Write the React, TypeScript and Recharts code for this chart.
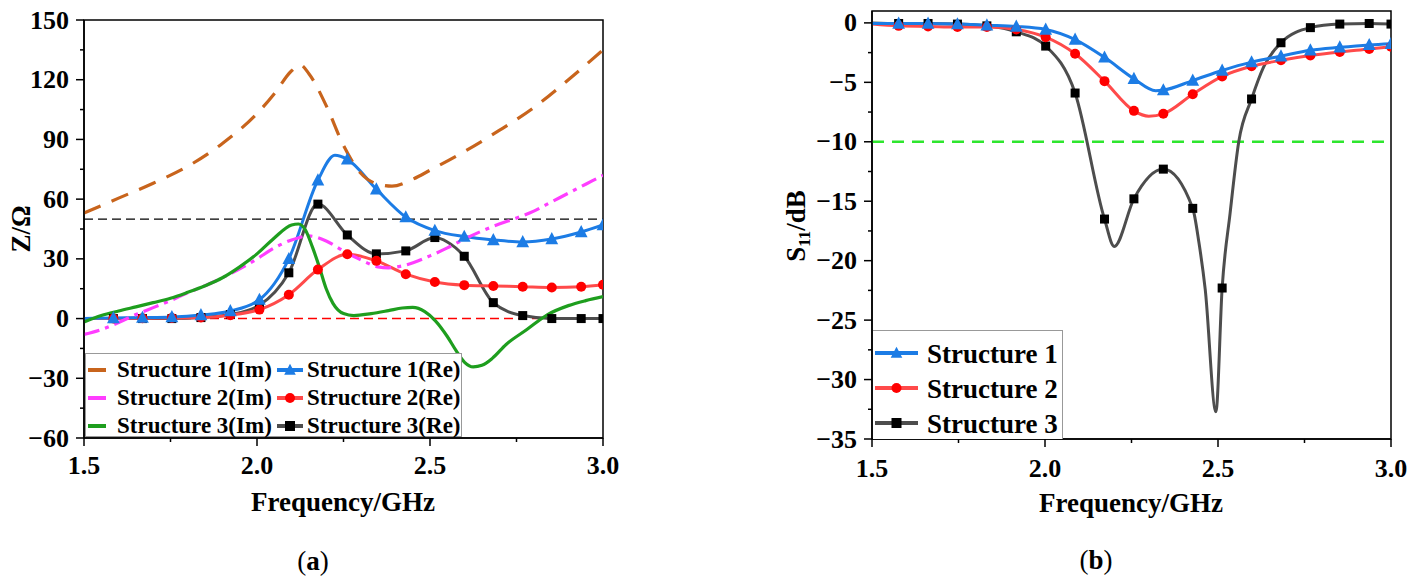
import React from 'react';
import { LineChart, Line, XAxis, YAxis, ReferenceLine, ReferenceArea } from 'recharts';

const FONT = '"Liberation Serif", "Times New Roman", serif';

// ---------- Panel (a): impedance ----------
const aTicksX = [1.5, 1.75, 2.0, 2.25, 2.5, 2.75, 3.0];
const aMajorX = [1.5, 2.0, 2.5, 3.0];
const aTicksY = [-60, -45, -30, -15, 0, 15, 30, 45, 60, 75, 90, 105, 120, 135, 150];
const aMajorY = [-60, -30, 0, 30, 60, 90, 120, 150];

const aMarkF = [1.585, 1.669, 1.754, 1.838, 1.923, 2.007, 2.092, 2.176, 2.261, 2.345, 2.43, 2.514, 2.599, 2.683, 2.768, 2.852, 2.937, 3.0];
const s1ReMarks = [0.3, 0.5, 0.8, 1.8, 3.8, 9.5, 30, 69.5, 80, 65, 51, 44.2, 41.2, 39.5, 38.5, 40, 43.5, 47];
const s1ReExtra: [number, number][] = [[1.5, 0], [2.225, 82]];
const s2ReMarks = [0, 0.2, 0.3, 0.5, 1.7, 4.5, 12, 24.6, 32.3, 29, 22.3, 18.4, 16.8, 16.4, 16, 15.6, 16, 17];
const s2ReExtra: [number, number][] = [[1.5, 0]];
const s3ReMarks = [0, 0, 0, 0.5, 2, 6.7, 23, 57.5, 42, 32.5, 34, 40.7, 31.3, 8, 1.5, 0, 0, 0];
const s3ReExtra: [number, number][] = [[1.5, 0], [2.55, 38.5]];

const s1Im: [number, number][] = [
  [1.5, 53], [1.6, 60.5], [1.7, 68], [1.8, 76.5], [1.9, 88], [2.0, 103], [2.05, 113], [2.1, 124.5],
  [2.125, 127.5], [2.15, 123], [2.2, 107], [2.25, 87], [2.3, 73], [2.35, 67.5], [2.39, 66.5], [2.45, 70],
  [2.5, 74.5], [2.6, 84], [2.7, 94.5], [2.8, 106], [2.9, 120], [3.0, 135],
];
const s2Im: [number, number][] = [
  [1.5, -8], [1.55, -5.5], [1.6, -2], [1.65, 2], [1.7, 5.5], [1.75, 9], [1.8, 13], [1.85, 16.5], [1.9, 20.5],
  [1.95, 25], [2.0, 30], [2.05, 35.5], [2.1, 39.5], [2.15, 41.5], [2.2, 39], [2.25, 34], [2.3, 29.5],
  [2.35, 26], [2.38, 25.5], [2.42, 26.5], [2.5, 31.5], [2.55, 35.5], [2.6, 40], [2.65, 44], [2.7, 47.5],
  [2.75, 50.5], [2.8, 54], [2.85, 58.5], [2.9, 63], [2.95, 67.5], [3.0, 72],
];
const s3Im: [number, number][] = [
  [1.5, -1.7], [1.55, 1.5], [1.6, 3.8], [1.65, 5.9], [1.7, 8], [1.75, 10.2], [1.8, 13.2], [1.85, 16.5],
  [1.9, 20.5], [1.95, 26], [2.0, 32.5], [2.05, 40.5], [2.1, 47], [2.12, 47.5], [2.14, 44.5], [2.16, 36],
  [2.18, 26], [2.2, 15], [2.22, 7.5], [2.25, 2.5], [2.28, 1.5], [2.33, 2.5], [2.38, 4], [2.42, 5.3],
  [2.45, 5.6], [2.485, 3.5], [2.515, -1], [2.55, -9], [2.575, -16], [2.6, -22], [2.625, -24.3],
  [2.65, -23.5], [2.68, -20], [2.72, -13], [2.78, -5.5], [2.84, 2], [2.9, 6.5], [2.95, 9], [3.0, 11],
];

// ---------- Panel (b): S11 ----------
const bTicksX = [1.5, 1.75, 2.0, 2.25, 2.5, 2.75, 3.0];
const bMajorX = [1.5, 2.0, 2.5, 3.0];
const bTicksY = [-35, -32.5, -30, -27.5, -25, -22.5, -20, -17.5, -15, -12.5, -10, -7.5, -5, -2.5, 0];
const bMajorY = [-35, -30, -25, -20, -15, -10, -5, 0];

const bMarkF = [1.577, 1.662, 1.747, 1.832, 1.917, 2.002, 2.087, 2.172, 2.257, 2.342, 2.427, 2.512, 2.597, 2.682, 2.767, 2.852, 2.937, 3.0];
const b1Marks = [-0.05, -0.05, -0.1, -0.2, -0.3, -0.55, -1.4, -2.9, -4.7, -5.65, -4.85, -4.0, -3.3, -2.8, -2.3, -2.05, -1.85, -1.75];
const b1Extra: [number, number][] = [[1.5, -0.05], [2.32, -5.7]];
const b2Marks = [-0.25, -0.3, -0.35, -0.35, -0.55, -1.2, -2.6, -4.9, -7.4, -7.65, -6.0, -4.5, -3.65, -3.15, -2.75, -2.45, -2.2, -2.0];
const b2Extra: [number, number][] = [[1.5, -0.1], [2.3, -7.85]];
const b3Marks = [-0.05, -0.05, -0.1, -0.25, -0.75, -1.95, -5.9, -16.5, -14.8, -12.3, -15.6, -22.3, -6.4, -1.67, -0.4, -0.1, -0.05, -0.1];
const b3Extra: [number, number][] = [[1.5, 0], [2.2, -18.8], [2.445, -18.5], [2.463, -22.4], [2.494, -32.7], [2.535, -16], [2.56, -10], [2.632, -3.7]];

type Pt = { f: number; v: number; m: boolean };
function build(markF: number[], markV: number[], extra: [number, number][]): Pt[] {
  const pts: Pt[] = markF.map((f, i) => ({ f, v: markV[i], m: true }));
  extra.forEach(([f, v]) => pts.push({ f, v, m: false }));
  return pts.sort((a, b) => a.f - b.f);
}
function curve(p: [number, number][]): Pt[] {
  return p.map(([f, v]) => ({ f, v, m: false }));
}

const C = {
  orange: '#C8641C',
  magenta: '#FF3DFF',
  green: '#1E9E1E',
  blue: '#1C7CE5',
  redLine: '#FF4A4A',
  red: '#FF0000',
  grayLine: '#4D4D4D',
  black: '#000000',
};

function Marker({ shape, cx, cy, color, s }: { shape: string; cx: number; cy: number; color: string; s: number }) {
  if (shape === 'tri') {
    const h = s * 1.05;
    return (
      <polygon
        points={`${cx},${cy - h * 0.6} ${cx - s * 0.58},${cy + h * 0.45} ${cx + s * 0.58},${cy + h * 0.45}`}
        fill={color}
      />
    );
  }
  if (shape === 'circ') return <circle cx={cx} cy={cy} r={s / 2} fill={color} />;
  return <rect x={cx - s / 2} y={cy - s / 2} width={s} height={s} fill={color} />;
}

const makeDot = (shape: string, color: string, s: number) => (props: any) => {
  const { cx, cy, payload, index } = props;
  if (!payload || !payload.m || cx == null || cy == null) return <g key={`n${index}`} />;
  return (
    <g key={`d${index}`}>
      <Marker shape={shape} cx={cx} cy={cy} color={color} s={s} />
    </g>
  );
};

const fmt = (v: number) => String(v).replace('-', '\u2212');

const makeYTick = (axisX: number, major: number[]) => (props: any) => {
  const { y, payload } = props;
  const v = payload.value;
  const isMajor = major.includes(v);
  return (
    <g>
      <line x1={axisX} x2={axisX - (isMajor ? 8 : 4)} y1={y} y2={y} stroke="#000" strokeWidth={1.5} />
      {isMajor && (
        <text x={axisX - 15} y={y} textAnchor="end" dominantBaseline="central" fontFamily={FONT} fontWeight="bold" fontSize={26} fill="#000">
          {fmt(v)}
        </text>
      )}
    </g>
  );
};

const makeXTick = (axisY: number, major: number[], dy: number) => (props: any) => {
  const { x, payload } = props;
  const v = payload.value;
  const isMajor = major.includes(v);
  return (
    <g>
      <line x1={x} x2={x} y1={axisY} y2={axisY + (isMajor ? 8 : 4)} stroke="#000" strokeWidth={1.5} />
      {isMajor && (
        <text x={x} y={axisY + dy} textAnchor="middle" dominantBaseline="central" fontFamily={FONT} fontWeight="bold" fontSize={26} fill="#000">
          {v.toFixed(1)}
        </text>
      )}
    </g>
  );
};

const txt: React.CSSProperties = {
  position: 'absolute',
  fontFamily: FONT,
  color: '#000',
  whiteSpace: 'nowrap',
  lineHeight: 1,
  transform: 'translate(-50%, -50%)',
};

function LegendIcon({ color, dash, shape, w, mx }: { color: string; dash?: string; shape?: string; w: number; mx?: number }) {
  return (
    <svg width={w} height={14} style={{ display: 'block' }}>
      <line x1={0} x2={w} y1={7} y2={7} stroke={color} strokeWidth={4} strokeDasharray={dash} />
      {shape && <Marker shape={shape} cx={mx ?? w / 2} cy={7} color={shape === 'circ' ? C.red : shape === 'sq' ? C.black : color} s={10} />}
    </svg>
  );
}

export default function App() {
  const A = { w: 625, h: 500, mt: 20, mr: 22, mb: 22, yw: 84, xh: 40 };
  const aAxisY = A.h - A.mb - A.xh; // 438
  const B = { w: 640, h: 500, mt: 11, mr: 29, mb: 21, yw: 92, xh: 40 };
  const bAxisY = B.h - B.mb - B.xh; // 439

  const s1Re = build(aMarkF, s1ReMarks, s1ReExtra);
  const s2Re = build(aMarkF, s2ReMarks, s2ReExtra);
  const s3Re = build(aMarkF, s3ReMarks, s3ReExtra);
  const b1 = build(bMarkF, b1Marks, b1Extra);
  const b2 = build(bMarkF, b2Marks, b2Extra);
  const b3 = build(bMarkF, b3Marks, b3Extra);

  const legA = [
    { label: 'Structure 1(Im)', color: C.orange, label2: 'Structure 1(Re)', color2: C.blue, shape: 'tri' },
    { label: 'Structure 2(Im)', color: C.magenta, label2: 'Structure 2(Re)', color2: C.redLine, shape: 'circ' },
    { label: 'Structure 3(Im)', color: C.green, label2: 'Structure 3(Re)', color2: C.grayLine, shape: 'sq' },
  ];
  const legB = [
    { label: 'Structure 1', color: C.blue, shape: 'tri' },
    { label: 'Structure 2', color: C.redLine, shape: 'circ' },
    { label: 'Structure 3', color: C.grayLine, shape: 'sq' },
  ];

  const nw: React.CSSProperties = { whiteSpace: 'nowrap' };

  return (
    <div style={{ position: 'absolute', left: 0, top: 0, width: 1421, height: 583, background: '#fff', overflow: 'hidden' }}>
      {/* Panel (a) */}
      <div style={{ position: 'absolute', left: 0, top: 0 }}>
        <LineChart width={A.w} height={A.h} margin={{ top: A.mt, right: A.mr, bottom: A.mb, left: 0 }}>
          <XAxis
            type="number"
            dataKey="f"
            domain={[1.5, 3.0]}
            ticks={aTicksX}
            interval={0}
            allowDataOverflow
            height={A.xh}
            axisLine={{ stroke: '#000', strokeWidth: 1.5 }}
            tickLine={false}
            tick={makeXTick(aAxisY, aMajorX, 27)}
          />
          <YAxis
            type="number"
            dataKey="v"
            domain={[-60, 150]}
            ticks={aTicksY}
            interval={0}
            allowDataOverflow
            width={A.yw}
            axisLine={{ stroke: '#000', strokeWidth: 1.5 }}
            tickLine={false}
            tick={makeYTick(A.yw, aMajorY)}
          />
          <ReferenceArea x1={1.5} x2={3.0} y1={-60} y2={150} fill="none" stroke="#000" strokeWidth={1.5} ifOverflow="visible" />
          <ReferenceLine y={50} stroke="#000" strokeWidth={1.2} strokeDasharray="9 5" />
          <ReferenceLine y={0} stroke="#FF0000" strokeWidth={1.5} strokeDasharray="9 5" />
          <Line data={s3Re} dataKey="v" type="monotone" stroke={C.grayLine} strokeWidth={3} dot={makeDot('sq', C.black, 9)} activeDot={false} isAnimationActive={false} />
          <Line data={s2Re} dataKey="v" type="monotone" stroke={C.redLine} strokeWidth={3} dot={makeDot('circ', C.red, 10)} activeDot={false} isAnimationActive={false} />
          <Line data={s1Re} dataKey="v" type="monotone" stroke={C.blue} strokeWidth={3} dot={makeDot('tri', C.blue, 11)} activeDot={false} isAnimationActive={false} />
          <Line data={curve(s1Im)} dataKey="v" type="monotone" stroke={C.orange} strokeWidth={3.2} strokeDasharray="18 12" dot={false} activeDot={false} isAnimationActive={false} />
          <Line data={curve(s2Im)} dataKey="v" type="monotone" stroke={C.magenta} strokeWidth={3.2} strokeDasharray="16 6 4 6" dot={false} activeDot={false} isAnimationActive={false} />
          <Line data={curve(s3Im)} dataKey="v" type="monotone" stroke={C.green} strokeWidth={3.2} dot={false} activeDot={false} isAnimationActive={false} />
        </LineChart>
      </div>

      {/* Legend (a) */}
      <div
        style={{
          position: 'absolute', left: 85, top: 353, width: 377, height: 84, background: '#fff',
          border: '1px solid #999', boxSizing: 'border-box', fontFamily: FONT, fontWeight: 'bold', fontSize: 23,
        }}
      >
        {legA.map((r, i) => (
          <div key={i} style={{ position: 'absolute', top: 2 + i * 28, left: 0, height: 28, width: '100%' }}>
            <div style={{ position: 'absolute', left: 2, top: 7 }}>
              <LegendIcon color={r.color} w={18} />
            </div>
            <div style={{ ...nw, position: 'absolute', left: 31, top: 2, lineHeight: '24px' }}>{r.label}</div>
            <div style={{ position: 'absolute', left: 191, top: 7 }}>
              <LegendIcon color={r.color2} shape={r.shape} w={26} />
            </div>
            <div style={{ ...nw, position: 'absolute', left: 221, top: 2, lineHeight: '24px' }}>{r.label2}</div>
          </div>
        ))}
      </div>

      <div style={{ ...txt, left: 21, top: 229, fontSize: 27, fontWeight: 'bold', transform: 'translate(-50%, -50%) rotate(-90deg)' }}>Z/Ω</div>
      <div style={{ ...txt, left: 343, top: 502, fontSize: 27, fontWeight: 'bold' }}>Frequency/GHz</div>
      <div style={{ ...txt, left: 313, top: 561, fontSize: 27 }}>
        (<b>a</b>)
      </div>

      {/* Panel (b) */}
      <div style={{ position: 'absolute', left: 780, top: 0 }}>
        <LineChart width={B.w} height={B.h} margin={{ top: B.mt, right: B.mr, bottom: B.mb, left: 0 }}>
          <XAxis
            type="number"
            dataKey="f"
            domain={[1.5, 3.0]}
            ticks={bTicksX}
            interval={0}
            allowDataOverflow
            height={B.xh}
            axisLine={{ stroke: '#000', strokeWidth: 1.5 }}
            tickLine={false}
            tick={makeXTick(bAxisY, bMajorX, 29)}
          />
          <YAxis
            type="number"
            dataKey="v"
            domain={[-35, 1]}
            ticks={bTicksY}
            interval={0}
            allowDataOverflow
            width={B.yw}
            axisLine={{ stroke: '#000', strokeWidth: 1.5 }}
            tickLine={false}
            tick={makeYTick(B.yw, bMajorY)}
          />
          <ReferenceArea x1={1.5} x2={3.0} y1={-35} y2={1} fill="none" stroke="#000" strokeWidth={1.5} ifOverflow="visible" />
          <ReferenceLine y={-10} stroke="#2EE62E" strokeWidth={2.5} strokeDasharray="12 8" />
          <Line data={b3} dataKey="v" type="monotone" stroke={C.grayLine} strokeWidth={3} dot={makeDot('sq', C.black, 9)} activeDot={false} isAnimationActive={false} />
          <Line data={b2} dataKey="v" type="monotone" stroke={C.redLine} strokeWidth={3} dot={makeDot('circ', C.red, 10)} activeDot={false} isAnimationActive={false} />
          <Line data={b1} dataKey="v" type="monotone" stroke={C.blue} strokeWidth={3} dot={makeDot('tri', C.blue, 11)} activeDot={false} isAnimationActive={false} />
        </LineChart>
      </div>

      {/* Legend (b) */}
      <div
        style={{
          position: 'absolute', left: 873, top: 330, width: 190, height: 109, background: '#fff',
          border: '1px solid #999', borderLeft: 'none', borderBottom: 'none', boxSizing: 'border-box',
          fontFamily: FONT, fontWeight: 'bold', fontSize: 27,
        }}
      >
        {legB.map((r, i) => (
          <div key={i} style={{ position: 'absolute', top: 5 + i * 35, left: 0, height: 35, width: '100%' }}>
            <div style={{ position: 'absolute', left: 2, top: 10 }}>
              <LegendIcon color={r.color} shape={r.shape} w={43} />
            </div>
            <div style={{ ...nw, position: 'absolute', left: 54, top: 3, lineHeight: '30px' }}>{r.label}</div>
          </div>
        ))}
      </div>

      <div style={{ ...txt, left: 798, top: 226, fontSize: 27, fontWeight: 'bold', transform: 'translate(-50%, -50%) rotate(-90deg)' }}>
        S<sub style={{ fontSize: 17, verticalAlign: '-0.25em' }}>11</sub>/dB
      </div>
      <div style={{ ...txt, left: 1131, top: 503, fontSize: 27, fontWeight: 'bold' }}>Frequency/GHz</div>
      <div style={{ ...txt, left: 1096, top: 560, fontSize: 27 }}>
        (<b>b</b>)
      </div>
    </div>
  );
}
